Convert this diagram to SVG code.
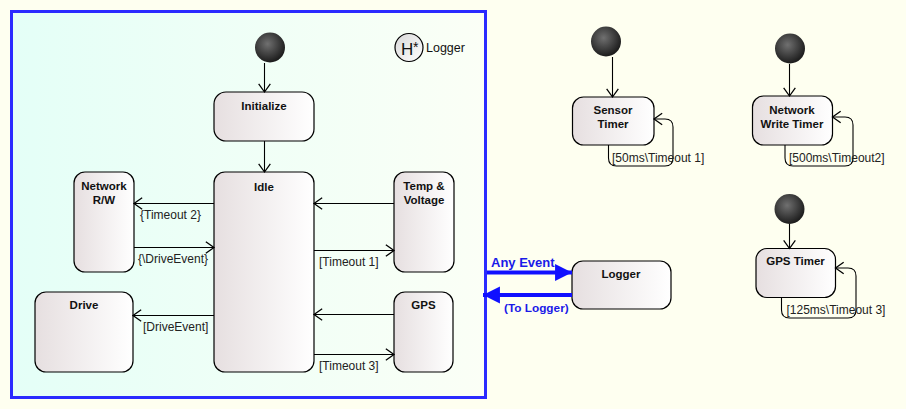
<svg xmlns="http://www.w3.org/2000/svg" width="906" height="409" viewBox="0 0 906 409">
<defs>
<linearGradient id="nodeFill" x1="0" y1="0" x2="1" y2="0">
<stop offset="0" stop-color="#e6dfe0"/>
<stop offset="1" stop-color="#ffffff"/>
</linearGradient>
<linearGradient id="contFill" x1="0" y1="0" x2="1" y2="0">
<stop offset="0" stop-color="#e4fff7"/>
<stop offset="1" stop-color="#fbfff6"/>
</linearGradient>
<linearGradient id="histFill" x1="0" y1="0" x2="1" y2="1">
<stop offset="0" stop-color="#d8d8d8"/>
<stop offset="1" stop-color="#ffffff"/>
</linearGradient>
<radialGradient id="ball" cx="0.42" cy="0.38" r="0.62">
<stop offset="0" stop-color="#707070"/>
<stop offset="1" stop-color="#1c1c1c"/>
</radialGradient>
<marker id="open" markerUnits="userSpaceOnUse" markerWidth="14" markerHeight="14" refX="10" refY="6" orient="auto" viewBox="0 0 12 12">
<path d="M3,1 L10,6 L3,11" fill="none" stroke="#000" stroke-width="1.1"/>
</marker>
<marker id="blueHead" markerUnits="userSpaceOnUse" markerWidth="18" markerHeight="18" refX="16" refY="8" orient="auto" viewBox="0 0 17 16">
<path d="M0,0 L16,8 L0,16 Z" fill="#1010ff"/>
</marker>
</defs>
<style>
.node{fill:url(#nodeFill);stroke:#000;stroke-width:1.2}
.title{font-family:"Liberation Sans",Arial,sans-serif;font-weight:bold;font-size:11.5px;fill:#111;text-anchor:middle}
.lbl{font-family:"Liberation Sans",Arial,sans-serif;font-size:12px;fill:#222}
.edge{fill:none;stroke:#000;stroke-width:1.1;marker-end:url(#open)}
.init{fill:url(#ball)}
.blue{fill:none;stroke:#1010ff;stroke-width:4;marker-end:url(#blueHead)}
.bluetxt{font-family:"Liberation Sans",Arial,sans-serif;font-weight:bold;fill:#1a1ae8}
</style>
<rect x="0" y="0" width="906" height="409" fill="#fefff0"/>
<g id="container">
<rect x="11.5" y="11.5" width="474" height="386" fill="url(#contFill)" stroke="#2a2aff" stroke-width="3"/>
</g>
<g id="init_main"><circle class="init" cx="270" cy="47.5" r="15"/></g>
<g id="history">
<circle cx="409" cy="47.5" r="14" fill="url(#histFill)" stroke="#000" stroke-width="1.2"/>
<text x="401" y="54.5" font-family="Liberation Sans,Arial,sans-serif" font-size="17" fill="#111">H</text>
<text x="413" y="52" font-family="Liberation Sans,Arial,sans-serif" font-size="14" fill="#111">*</text>
<text x="426" y="52" font-family="Liberation Sans,Arial,sans-serif" font-size="12.5" fill="#111">Logger</text>
</g>
<g id="initialize"><rect class="node" x="214" y="92" width="100" height="49" rx="12"/><text class="title" x="264" y="110">Initialize</text></g>
<g id="idle"><rect class="node" x="214" y="172" width="100" height="200" rx="11"/><text class="title" x="264" y="190.5">Idle</text></g>
<g id="networkrw"><rect class="node" x="74" y="172" width="60" height="100" rx="11"/><text class="title" x="104" y="190">Network</text><text class="title" x="104" y="204">R/W</text></g>
<g id="drive"><rect class="node" x="35" y="292" width="98" height="80" rx="11"/><text class="title" x="84" y="309">Drive</text></g>
<g id="tempvoltage"><rect class="node" x="394" y="172" width="60" height="100" rx="11"/><text class="title" x="424" y="190">Temp &amp;</text><text class="title" x="424" y="204">Voltage</text></g>
<g id="gps"><rect class="node" x="394" y="292" width="59" height="80" rx="11"/><text class="title" x="423.5" y="309">GPS</text></g>
<g id="logger"><rect class="node" x="572" y="261" width="99" height="48" rx="11"/><text class="title" x="621" y="277.5">Logger</text></g>
<g id="init_sensor"><circle class="init" cx="606" cy="41.5" r="15"/></g>
<g id="sensortimer"><rect class="node" x="572.5" y="97" width="81.5" height="48" rx="11"/><text class="title" x="613" y="114">Sensor</text><text class="title" x="613" y="128">Timer</text></g>
<g id="init_network"><circle class="init" cx="790" cy="48.5" r="15"/></g>
<g id="networkwritetimer"><rect class="node" x="752.5" y="96" width="80" height="49" rx="11"/><text class="title" x="792" y="113.5">Network</text><text class="title" x="792" y="127.5">Write Timer</text></g>
<g id="init_gps"><circle class="init" cx="789.5" cy="209" r="15"/></g>
<g id="gpstimer"><rect class="node" x="756" y="248.5" width="79.5" height="49" rx="11"/><text class="title" x="795.5" y="265">GPS Timer</text></g>
<g id="connectors">
<path class="edge" d="M264.5,63 V92"/>
<path class="edge" d="M264.5,141 V172"/>
<path class="edge" d="M214,203.5 H134"/>
<text class="lbl" x="140" y="219">{Timeout 2}</text>
<path class="edge" d="M134,247.5 H214"/>
<text class="lbl" x="138" y="263">{\DriveEvent}</text>
<path class="edge" d="M214,315.5 H133"/>
<text class="lbl" x="143" y="331">[DriveEvent]</text>
<path class="edge" d="M394,203.5 H314"/>
<path class="edge" d="M314,250.5 H394"/>
<text class="lbl" x="319" y="266">[Timeout 1]</text>
<path class="edge" d="M394,314.5 H314"/>
<path class="edge" d="M314,354.5 H394"/>
<text class="lbl" x="319" y="370">[Timeout 3]</text>
<path class="blue" d="M487,272.5 H572"/>
<text class="bluetxt" x="491" y="267" font-size="13">Any Event</text>
<path class="blue" d="M572,295 H483"/>
<text class="bluetxt" x="504" y="311.5" font-size="11.8">(To Logger)</text>
<path class="edge" d="M612.5,57 V97"/>
<path class="edge" d="M608.5,145 V158 Q608.5,166 616.5,166 H665 Q673,166 673,158 V127 Q673,119 665,119 H654"/>
<text class="lbl" x="612" y="162">[50ms\Timeout 1]</text>
<path class="edge" d="M789.5,64 V96"/>
<path class="edge" d="M785,145 V158 Q785,166 793,166 H845 Q853,166 853,158 V125 Q853,117 845,117 H832.5"/>
<text class="lbl" x="789" y="162">[500ms\Timeout2]</text>
<path class="edge" d="M789.5,224 V248.5"/>
<path class="edge" d="M781.5,297.5 V310 Q781.5,318 789.5,318 H848 Q856,318 856,310 V276 Q856,268 848,268 H835.5"/>
<text class="lbl" x="786.5" y="313.5">[125ms\Timeout 3]</text>
</g>
</svg>
